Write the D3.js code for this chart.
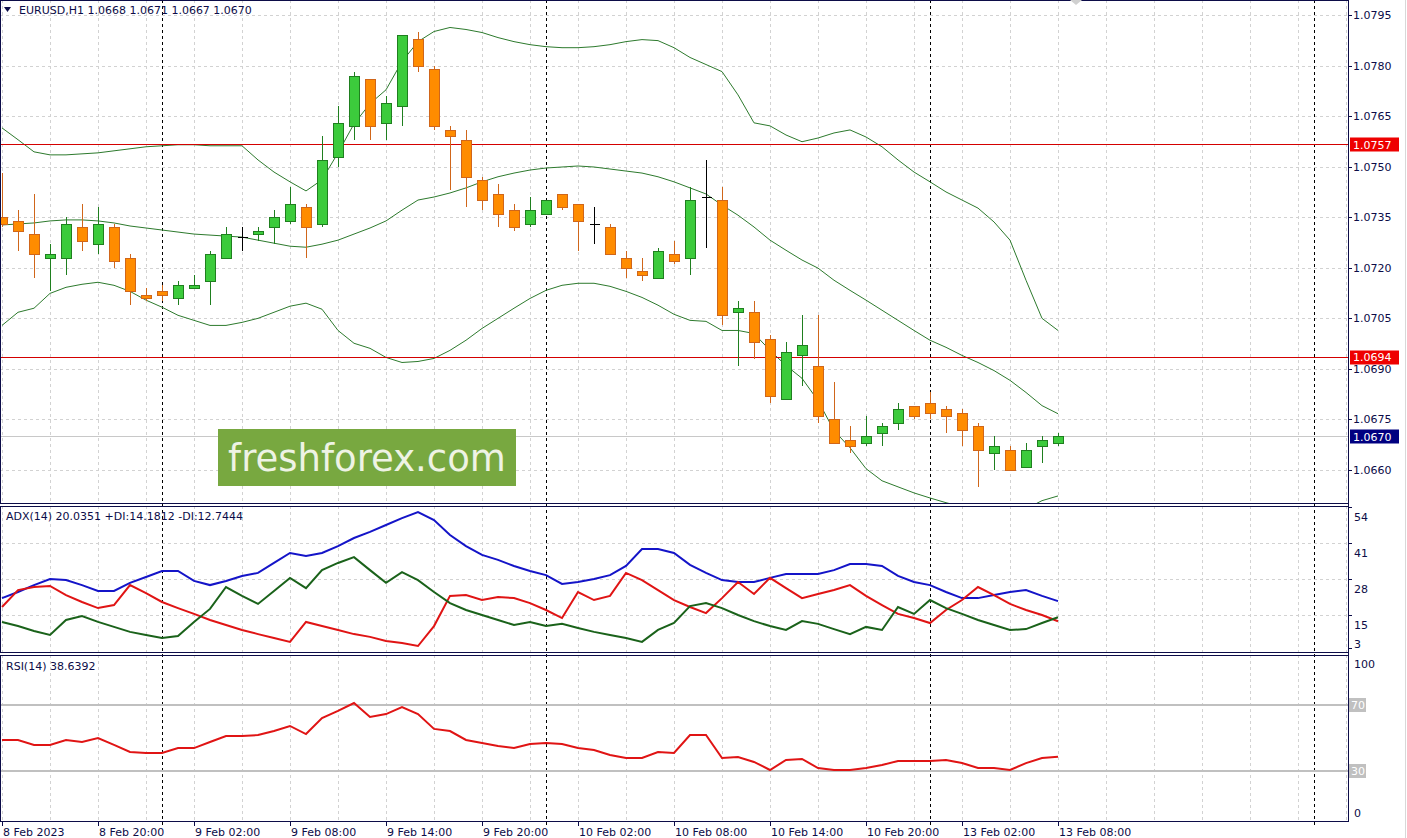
<!DOCTYPE html>
<html><head><meta charset="utf-8">
<script src="https://cdn.jsdelivr.net/npm/d3@7"></script>
<style>
body{margin:0;background:#fff;overflow:hidden}
svg{display:block}
text{font-family:"DejaVu Sans",sans-serif}
</style>
</head><body>
<svg id="c" width="1407" height="838"></svg>
<script>
// ---------- DATA ----------
const opens  = [1.0735,1.0734,1.0730,1.0723,1.0723,1.0732,1.0727,1.0732,1.0723,1.0712,
                1.0713,1.0711,1.0714,1.0716,1.0723,1.0729,1.0730,1.0732,1.0734,1.0738,
                1.0733,1.0753,1.0762,1.0776,1.0763,1.0768,1.0788,1.0779,1.0761,1.0758,
                1.0746,1.0742,1.0737,1.0733,1.0736,1.0742,1.0739,1.0733,1.0732,1.0723,
                1.0719,1.0717,1.0724,1.0723,1.0741,1.0740,1.0707,1.0707,1.0699,1.0681,
                1.0694,1.0691,1.0675,1.0669,1.0668,1.0671,1.0674,1.0679,1.0680,1.0678,
                1.0677,1.0673,1.0665,1.0666,1.0661,1.0667,1.0668];
const highs  = [1.0748,1.0737,1.0742,1.0727,1.0735,1.0739,1.0738,1.0733,1.0724,1.0714,
                1.0715,1.0716,1.0718,1.0725,1.0732,1.0732,1.0732,1.0737,1.0744,1.0739,
                1.0759,1.0768,1.0778,1.0776,1.0771,1.0789,1.0790,1.0780,1.0762,1.0761,
                1.0747,1.0745,1.0739,1.0741,1.0740,1.0742,1.0739,1.0738,1.0733,1.0725,
                1.0723,1.0726,1.0728,1.0744,1.0752,1.0744,1.0710,1.0710,1.0700,1.0698,
                1.0706,1.0706,1.0686,1.0673,1.0676,1.0674,1.0680,1.0679,1.0683,1.0679,
                1.0678,1.0674,1.0670,1.0667,1.0668,1.0670,1.0671];
const lows   = [1.0732,1.0725,1.0717,1.0713,1.0718,1.0725,1.0724,1.0720,1.0709,1.0710,
                1.0710,1.0709,1.0714,1.0709,1.0723,1.0725,1.0728,1.0727,1.0733,1.0723,
                1.0732,1.0750,1.0758,1.0758,1.0758,1.0762,1.0778,1.0761,1.0743,1.0738,
                1.0737,1.0732,1.0731,1.0732,1.0736,1.0737,1.0725,1.0727,1.0724,1.0717,
                1.0716,1.0717,1.0721,1.0718,1.0726,1.0703,1.0691,1.0693,1.0680,1.0681,
                1.0685,1.0674,1.0668,1.0665,1.0667,1.0667,1.0672,1.0675,1.0675,1.0671,
                1.0667,1.0655,1.0660,1.0660,1.0661,1.0662,1.0667];
const closes = [1.0733,1.0731,1.0724,1.0724,1.0733,1.0728,1.0733,1.0722,1.0713,1.0711,
                1.0712,1.0715,1.0715,1.0724,1.0730,1.0729,1.0731,1.0735,1.0739,1.0732,
                1.0752,1.0763,1.0777,1.0762,1.0769,1.0789,1.0780,1.0762,1.0759,1.0747,
                1.0740,1.0736,1.0732,1.0737,1.0740,1.0738,1.0734,1.0733,1.0724,1.0720,
                1.0718,1.0725,1.0722,1.0740,1.0741,1.0706,1.0708,1.0698,1.0682,1.0695,
                1.0697,1.0676,1.0668,1.0667,1.0670,1.0673,1.0678,1.0676,1.0677,1.0676,
                1.0672,1.0666,1.0667,1.0660,1.0666,1.0669,1.0670];

const bbUpper  = [1.07615,1.07580,1.07544,1.07535,1.07535,1.07538,1.07541,1.07547,1.07553,1.07559,
                  1.07562,1.07565,1.07565,1.07562,1.07562,1.07562,1.07520,1.07484,1.07455,1.07428,
                  1.07461,1.07541,1.07627,1.07687,1.07728,1.07812,1.07871,1.07901,1.07913,1.07907,
                  1.07898,1.07883,1.07871,1.07862,1.07856,1.07853,1.07853,1.07856,1.07862,1.07871,
                  1.07877,1.07874,1.07853,1.07824,1.07803,1.07782,1.07713,1.07630,1.07621,1.07594,
                  1.07574,1.07585,1.07600,1.07609,1.07588,1.07559,1.07520,1.07484,1.07455,1.07425,
                  1.07401,1.07377,1.07336,1.07282,1.07163,1.07050,1.07014];
const bbMiddle = [1.07327,1.07330,1.07333,1.07339,1.07342,1.07342,1.07339,1.07333,1.07324,1.07318,
                  1.07312,1.07306,1.07300,1.07297,1.07294,1.07291,1.07282,1.07273,1.07264,1.07261,
                  1.07270,1.07282,1.07300,1.07318,1.07339,1.07371,1.07401,1.07410,1.07422,1.07437,
                  1.07455,1.07470,1.07481,1.07490,1.07496,1.07499,1.07502,1.07499,1.07493,1.07487,
                  1.07481,1.07470,1.07455,1.07437,1.07419,1.07386,1.07356,1.07321,1.07282,1.07252,
                  1.07223,1.07199,1.07163,1.07133,1.07104,1.07074,1.07044,1.07014,1.06985,1.06964,
                  1.06940,1.06919,1.06895,1.06866,1.06830,1.06791,1.06767];
const bbLower  = [1.07029,1.07068,1.07080,1.07124,1.07142,1.07151,1.07157,1.07148,1.07130,1.07104,
                  1.07083,1.07059,1.07044,1.07029,1.07029,1.07038,1.07050,1.07068,1.07086,1.07095,
                  1.07077,1.07014,1.06976,1.06961,1.06934,1.06919,1.06922,1.06931,1.06955,1.06985,
                  1.07020,1.07050,1.07080,1.07109,1.07133,1.07148,1.07154,1.07154,1.07145,1.07130,
                  1.07112,1.07089,1.07062,1.07044,1.07041,1.07014,1.07014,1.07005,1.06955,1.06910,
                  1.06872,1.06806,1.06717,1.06666,1.06604,1.06568,1.06550,1.06532,1.06517,1.06503,
                  1.06491,1.06479,1.06473,1.06473,1.06485,1.06509,1.06523];

const adxValues = [21.1,23.3,25.8,28.0,27.6,25.8,23.7,23.7,26.6,28.7,
                   30.9,30.9,27.3,25.8,27.3,29.1,30.2,33.8,37.4,36.3,
                   37.4,39.9,42.8,45.0,47.5,50.0,52.2,49.3,43.9,39.9,
                   36.7,34.9,32.7,30.9,29.4,26.2,26.9,28.0,29.4,32.7,
                   38.8,38.8,37.4,33.1,30.2,27.6,26.9,26.9,28.4,29.8,
                   29.8,29.8,31.2,33.4,33.4,32.7,29.1,26.9,25.8,23.3,
                   21.1,21.1,22.2,23.3,24.0,21.9,20.0];
const plusDI    = [12.5,11.0,9.2,7.8,13.2,14.6,12.5,10.7,8.9,7.8,
                   6.7,7.4,12.5,17.2,25.1,21.9,19.0,23.7,28.4,24.7,
                   31.2,33.8,35.9,31.2,26.6,30.5,27.6,23.3,19.3,16.8,
                   15.0,13.2,11.4,12.5,11.0,11.8,10.3,8.9,7.8,6.7,
                   5.3,9.6,12.1,18.2,19.3,17.5,15.0,12.8,11.0,9.6,
                   12.8,11.8,9.9,8.1,10.7,9.6,17.9,15.4,20.4,17.5,
                   15.4,13.2,11.4,9.6,9.9,12.1,14.18];
const minusDI   = [17.9,24.0,25.1,25.5,22.2,19.7,17.5,18.6,25.8,22.9,
                   19.7,17.5,15.4,13.2,11.4,9.6,8.1,6.7,5.3,12.5,
                   11.0,9.6,8.1,7.1,5.6,4.9,3.8,11.0,21.9,22.2,
                   20.4,21.5,21.1,19.3,16.8,13.9,23.3,20.4,21.9,30.2,
                   27.6,24.0,20.4,17.9,15.7,21.1,26.9,22.6,28.4,24.7,
                   21.1,22.6,24.0,25.8,21.9,18.6,15.4,13.9,12.1,16.8,
                   20.4,25.1,22.2,19.0,16.8,15.0,12.74];

const rsiValues = [48.8,48.8,45.8,45.8,48.8,47.6,50.0,45.8,41.5,40.9,
                   40.9,43.9,43.9,47.6,51.2,51.2,51.8,54.2,57.3,52.4,
                   62.1,66.4,71.2,62.7,64.5,68.8,64.5,55.5,54.2,48.8,
                   47.0,45.2,43.9,46.4,47.0,46.4,43.9,42.7,39.7,37.9,
                   37.9,41.5,40.9,51.8,51.8,37.9,38.5,35.5,30.6,36.7,
                   37.3,31.8,30.6,30.6,31.8,33.6,36.1,36.1,36.1,36.7,
                   34.8,31.8,31.8,30.6,34.8,37.9,38.64];

const priceTicks = [1.0795,1.0780,1.0765,1.0750,1.0735,1.0720,1.0705,1.0690,1.0675,1.0660];
const levelLines = [1.07566,1.06936];
const lastPrice  = 1.0670;
const adxTicks   = [54,41,28,15,3];
const rsiLevels  = [70,30];
const timeTickBars   = [0,6,12,18,24,30,36,42,48,54,60,66];
const timeTickLabels = ["8 Feb 2023","8 Feb 20:00","9 Feb 02:00","9 Feb 08:00","9 Feb 14:00","9 Feb 20:00",
                        "10 Feb 02:00","10 Feb 08:00","10 Feb 14:00","10 Feb 20:00","13 Feb 02:00","13 Feb 08:00"];
const daySepBars = [10,34,58,82];
const headerText = "EURUSD,H1  1.0668 1.0671 1.0667 1.0670";
const adxLabel = "ADX(14) 20.0351 +DI:14.1812 -DI:12.7444";
const rsiLabel = "RSI(14) 38.6392";

// ---------- LAYOUT ----------
const W = 1407, H = 838, R = 1348;
const P1 = {top:0, bottom:503};
const P2 = {top:505.5, bottom:652};
const P3 = {top:654.5, bottom:821};
const navy = "#0c0c48", gridC = "#d2d2d2";

const svg = d3.select("#c");
const x = d3.scaleLinear().domain([0,66]).range([2,1058]);
const y = d3.scaleLinear().domain([1.0660,1.0795]).range([470,15]);
const yA = d3.scaleLinear().domain([15,41]).range([615,543]);
const yR = d3.scaleLinear().domain([0,100]).range([820.5,655.5]);
const idx = d3.range(opens.length);

const defs = svg.append("defs");
[[P1,"c1"],[P2,"c2"],[P3,"c3"]].forEach(([p,id])=>{
  defs.append("clipPath").attr("id",id).append("rect")
    .attr("x",1).attr("y",p.top+1).attr("width",R-1).attr("height",p.bottom-p.top-1);
});

svg.append("rect").attr("width",W).attr("height",H).attr("fill","#fff");

// vertical grid (every 3 bars) in all panels
const vGridBars = d3.range(0, 85, 3);
[P1,P2,P3].forEach(p=>{
  svg.append("g").selectAll("line").data(vGridBars).join("line")
    .attr("x1",d=>Math.round(x(d))+0.5).attr("x2",d=>Math.round(x(d))+0.5)
    .attr("y1",p.top).attr("y2",p.bottom)
    .attr("stroke",gridC).attr("stroke-dasharray","3,3").attr("shape-rendering","crispEdges");
});
// horizontal grid main
svg.append("g").selectAll("line").data(priceTicks).join("line")
  .attr("x1",0).attr("x2",R).attr("y1",d=>Math.round(y(d))+0.5).attr("y2",d=>Math.round(y(d))+0.5)
  .attr("stroke",gridC).attr("stroke-dasharray","3,3").attr("shape-rendering","crispEdges");
// horizontal grid ADX
svg.append("g").selectAll("line").data([41,28,15]).join("line")
  .attr("x1",0).attr("x2",R).attr("y1",d=>Math.round(yA(d))+0.5).attr("y2",d=>Math.round(yA(d))+0.5)
  .attr("stroke",gridC).attr("stroke-dasharray","3,3").attr("shape-rendering","crispEdges");

// current price line
svg.append("line").attr("x1",0).attr("x2",R)
  .attr("y1",Math.round(y(lastPrice))+0.5).attr("y2",Math.round(y(lastPrice))+0.5)
  .attr("stroke","#c8c8c8").attr("shape-rendering","crispEdges");

// watermark
const wm = svg.append("g");
wm.append("rect").attr("x",218).attr("y",429).attr("width",298).attr("height",57).attr("fill","#78a840");
wm.append("text").attr("x",367).attr("y",471).attr("text-anchor","middle")
  .attr("font-size",37).attr("fill","#eef3e4").text("freshforex.com");

// day separators
svg.append("g").selectAll("line").data(daySepBars).join("line")
  .attr("x1",d=>Math.round(x(d))+0.5).attr("x2",d=>Math.round(x(d))+0.5)
  .attr("y1",0).attr("y2",P3.bottom+4)
  .attr("stroke","#000").attr("stroke-dasharray","3,3").attr("shape-rendering","crispEdges");

// RSI level lines
svg.append("g").selectAll("line").data(rsiLevels).join("line")
  .attr("x1",0).attr("x2",R).attr("y1",d=>yR(d)).attr("y2",d=>yR(d))
  .attr("stroke","#c0c0c0").attr("stroke-width",2);

// Bollinger bands
const gMain = svg.append("g").attr("clip-path","url(#c1)");
const bandLine = arr => d3.line().x(i=>x(i)).y(i=>y(arr[i]))(idx);
[bbUpper,bbMiddle,bbLower].forEach(arr=>{
  gMain.append("path").attr("d",bandLine(arr)).attr("fill","none")
    .attr("stroke","#2d7a2d").attr("stroke-width",1);
});

// level lines
gMain.selectAll("line.lvl").data(levelLines).join("line").attr("class","lvl")
  .attr("x1",0).attr("x2",R).attr("y1",d=>Math.round(y(d))+0.5).attr("y2",d=>Math.round(y(d))+0.5)
  .attr("stroke","#d40000").attr("shape-rendering","crispEdges");

// candles
const cg = gMain.append("g").attr("shape-rendering","crispEdges");
idx.forEach(i=>{
  const o=opens[i], c=closes[i], h=highs[i], l=lows[i];
  const cx = Math.round(x(i))+0.5;
  let fill, stroke;
  if (c>o) {fill="#3ccb3c"; stroke="#1f7f1f";}
  else if (c<o) {fill="#ff8c00"; stroke="#d0661a";}
  else {fill="#000"; stroke="#000";}
  cg.append("line").attr("x1",cx).attr("x2",cx).attr("y1",y(h)).attr("y2",y(l)).attr("stroke",stroke);
  if (c===o) {
    cg.append("line").attr("x1",cx-5).attr("x2",cx+5).attr("y1",Math.round(y(o))+0.5).attr("y2",Math.round(y(o))+0.5).attr("stroke","#000");
  } else {
    const top = Math.round(y(Math.max(o,c)))+0.5, bot = Math.round(y(Math.min(o,c)))+0.5;
    cg.append("rect").attr("x",cx-5).attr("y",top).attr("width",10).attr("height",Math.max(1,bot-top))
      .attr("fill",fill).attr("stroke",stroke);
  }
});

// ADX lines
const gA = svg.append("g").attr("clip-path","url(#c2)");
const lineA = arr => d3.line().x(i=>x(i)).y(i=>yA(arr[i]))(idx);
gA.append("path").attr("d",lineA(adxValues)).attr("fill","none").attr("stroke","#1414c8").attr("stroke-width",2);
gA.append("path").attr("d",lineA(minusDI)).attr("fill","none").attr("stroke","#e01414").attr("stroke-width",2);
gA.append("path").attr("d",lineA(plusDI)).attr("fill","none").attr("stroke","#1a621a").attr("stroke-width",2);

// RSI line
const gR = svg.append("g").attr("clip-path","url(#c3)");
gR.append("path").attr("d",d3.line().x(i=>x(i)).y(i=>yR(rsiValues[i]))(idx))
  .attr("fill","none").attr("stroke","#e01414").attr("stroke-width",2);

// panel frames
const frame = svg.append("g").attr("shape-rendering","crispEdges").attr("stroke",navy).attr("fill","none");
[P1,P2,P3].forEach(p=>{
  frame.append("rect").attr("x",0.5).attr("y",p.top+0.5).attr("width",R-0.5).attr("height",p.bottom-p.top);
});
frame.append("line").attr("x1",R+0.5).attr("x2",R+0.5).attr("y1",0).attr("y2",P3.bottom+1);
svg.append("line").attr("x1",W-1.5).attr("x2",W-1.5).attr("y1",0).attr("y2",H).attr("stroke","#d8d8d8");

// header
svg.append("path").attr("d","M4,7 L11,7 L7.5,12 Z").attr("fill",navy);
svg.append("text").attr("x",19).attr("y",14).attr("font-size",11).attr("fill",navy).text(headerText);
svg.append("text").attr("x",6).attr("y",520).attr("font-size",11).attr("fill",navy).text(adxLabel);
svg.append("text").attr("x",6).attr("y",670).attr("font-size",11).attr("fill",navy).text(rsiLabel);

// right price axis
const ax = svg.append("g");
ax.selectAll("line").data(priceTicks).join("line")
  .attr("x1",R).attr("x2",R+4).attr("y1",d=>Math.round(y(d))+0.5).attr("y2",d=>Math.round(y(d))+0.5)
  .attr("stroke",navy).attr("shape-rendering","crispEdges");
ax.selectAll("text").data(priceTicks).join("text")
  .attr("x",R+5).attr("y",d=>y(d)+4).attr("font-size",11).attr("fill",navy).text(d=>d.toFixed(4));

function tag(val, py, bg){
  const g = svg.append("g");
  g.append("rect").attr("x",R+2).attr("y",Math.round(py)-6.5).attr("width",49).attr("height",14).attr("fill",bg);
  g.append("text").attr("x",R+5).attr("y",py+4.5).attr("font-size",11).attr("fill","#fff").text(val);
}
levelLines.forEach(v=>tag(v.toFixed(4), y(v), "#ee0000"));
tag(lastPrice.toFixed(4), y(lastPrice), "#000080");

// ADX axis
adxTicks.forEach(t=>{
  const ty = yA(t);
  if (ty > P2.top && ty < P2.bottom)
    svg.append("line").attr("x1",R).attr("x2",R+4).attr("y1",Math.round(ty)+0.5).attr("y2",Math.round(ty)+0.5)
      .attr("stroke",navy).attr("shape-rendering","crispEdges");
  svg.append("text").attr("x",R+6).attr("y",Math.min(ty+14, P2.bottom-4)).attr("font-size",11).attr("fill",navy).text(t);
});

// RSI axis
svg.append("text").attr("x",R+6).attr("y",yR(100)+12).attr("font-size",11).attr("fill",navy).text("100");
svg.append("text").attr("x",R+6).attr("y",yR(0)-4).attr("font-size",11).attr("fill",navy).text("0");
rsiLevels.forEach(v=>{
  svg.append("rect").attr("x",R+1).attr("y",yR(v)-7).attr("width",17).attr("height",14).attr("fill","#c0c0c0");
  svg.append("text").attr("x",R+3).attr("y",yR(v)+4).attr("font-size",11).attr("fill","#fff").text(v);
});

// time axis
const tg = svg.append("g");
tg.selectAll("line").data(timeTickBars).join("line")
  .attr("x1",d=>Math.round(x(d))+0.5).attr("x2",d=>Math.round(x(d))+0.5)
  .attr("y1",P3.bottom).attr("y2",P3.bottom+5).attr("stroke",navy).attr("shape-rendering","crispEdges");
tg.selectAll("text").data(timeTickBars).join("text")
  .attr("x",d=>x(d)+1).attr("y",836).attr("font-size",11).attr("fill",navy)
  .text((d,i)=>timeTickLabels[i]);

// small grey mark at top
svg.append("path").attr("d","M1070,0 L1082,0 L1076,5 Z").attr("fill","#d0d0d0");
</script>
</body></html>
